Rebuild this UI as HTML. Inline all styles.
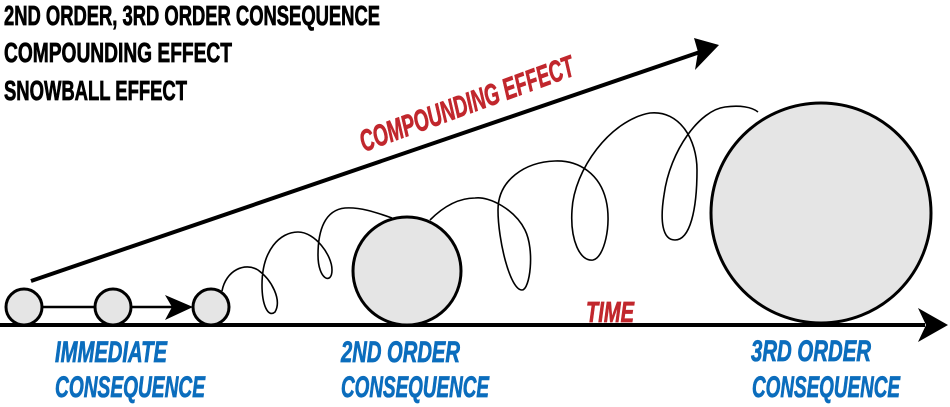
<!DOCTYPE html>
<html><head><meta charset="utf-8"><style>html,body{margin:0;padding:0;background:#fff}svg{display:block}</style></head>
<body>
<svg width="950" height="407" viewBox="0 0 950 407" xmlns="http://www.w3.org/2000/svg">
<g font-family="'Liberation Sans Narrow','Liberation Sans',sans-serif" font-weight="bold">
<g stroke="#000" stroke-width="0.8">
<text x="4" y="25" font-size="28" textLength="376" lengthAdjust="spacingAndGlyphs">2ND ORDER, 3RD ORDER CONSEQUENCE</text>
<text x="4" y="62" font-size="28" textLength="228" lengthAdjust="spacingAndGlyphs">COMPOUNDING EFFECT</text>
<text x="4" y="100" font-size="28" textLength="183" lengthAdjust="spacingAndGlyphs">SNOWBALL EFFECT</text>
</g>
<g fill="#0b6dbd" stroke="#0b6dbd" stroke-width="0.8" font-style="italic" font-size="30">
<text x="55" y="362" textLength="112" lengthAdjust="spacingAndGlyphs">IMMEDIATE</text>
<text x="55" y="397" textLength="150" lengthAdjust="spacingAndGlyphs">CONSEQUENCE</text>
<text x="341" y="362" textLength="119" lengthAdjust="spacingAndGlyphs">2ND ORDER</text>
<text x="341" y="397" textLength="148" lengthAdjust="spacingAndGlyphs">CONSEQUENCE</text>
<text x="751" y="361" textLength="120" lengthAdjust="spacingAndGlyphs">3RD ORDER</text>
<text x="752" y="397" textLength="148" lengthAdjust="spacingAndGlyphs">CONSEQUENCE</text>
</g>
<g fill="#c1272d" stroke="#c1272d" stroke-width="0.8" font-style="italic">
<text x="586" y="322" font-size="29" textLength="48" lengthAdjust="spacingAndGlyphs">TIME</text>
<text x="0" y="0" font-size="30" textLength="226" lengthAdjust="spacingAndGlyphs" transform="translate(364,152) rotate(-20)">COMPOUNDING EFFECT</text>
</g>
</g>
<g fill="none" stroke="#000">
<line x1="0" y1="325" x2="925" y2="325" stroke-width="4"/>
<line x1="31" y1="281" x2="700" y2="52" stroke-width="4"/>
<line x1="40" y1="307" x2="180" y2="307" stroke-width="2.5"/>
<path stroke-width="1.6" d="M222,291 C226,270 245,262 258,270 C272,280 282,300 275,312 C268,318 262,305 262,285 C262,250 280,232 298,232 C315,232 332,255 332,270 C332,285 318,280 318,255 C318,230 325,210 345,208 C360,207 375,212 392,218 M430,220 C440,210 455,198 475,198 C490,196 515,210 525,230 C535,250 530,290 522,290 C510,290 498,240 498,210 C498,180 525,162 555,161 C580,160 600,175 606,200 C612,225 604,258 593,260 C580,262 570,240 572,210 C574,170 610,120 650,113 C680,110 697,140 697,170 C697,210 690,240 675,240 C662,240 660,220 664,195 C670,150 700,110 725,107 C740,105 752,107 758,112"/>
</g>
<polygon points="948,325 918,308 926,325 918,342" fill="#000"/>
<polygon points="719,45 694,38 698,52 695,70" fill="#000"/>
<polygon points="193,307 165,295 172,307 165,320" fill="#000"/>
<g fill="#e5e5e5" stroke="#000" stroke-width="3">
<circle cx="24" cy="307" r="18"/>
<circle cx="113" cy="307" r="18"/>
<circle cx="211" cy="307" r="18"/>
<circle cx="407" cy="271" r="54"/>
<circle cx="821" cy="213" r="110"/>
</g>
</svg>
</body></html>
